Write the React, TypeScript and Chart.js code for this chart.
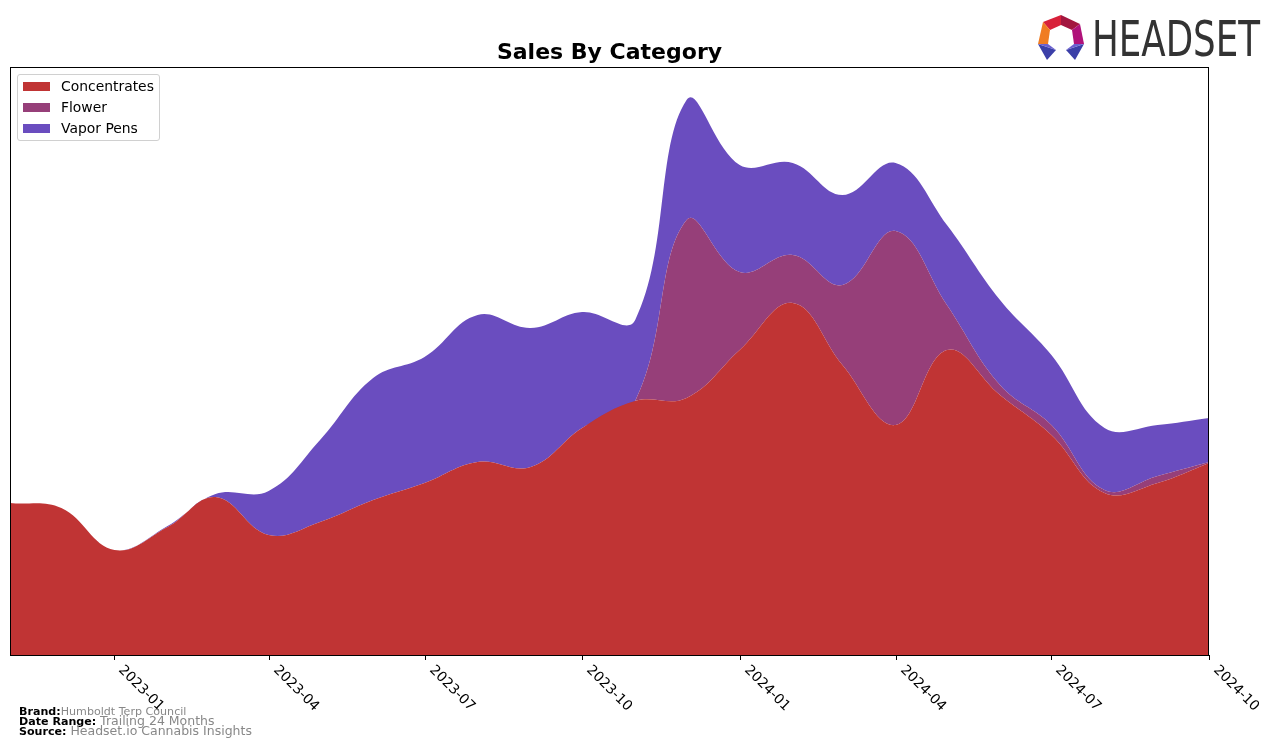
import React, { useEffect, useRef } from "react";
import { Chart, registerables } from "chart.js";

Chart.register(...registerables);

// Monthly data (arbitrary sales units)
const months = [
  "2022-11", "2022-12", "2023-01", "2023-02", "2023-03", "2023-04",
  "2023-05", "2023-06", "2023-07", "2023-08", "2023-09", "2023-10",
  "2023-11", "2023-12", "2024-01", "2024-02", "2024-03", "2024-04",
  "2024-05", "2024-06", "2024-07", "2024-08", "2024-09", "2024-10",
];
const concentrates = [152, 147, 105, 128, 158, 120, 133, 155, 172, 193, 188, 227, 254, 257, 305, 352, 290, 230, 305, 260, 220, 162, 172, 192];
const flower = [0, 0, 0, 0, 0, 0, 0, 0, 0, 0, 0, 0, 0, 178, 78, 48, 80, 194, 45, 10, 10, 3, 7, 1];
const vaporPens = [0, 0, 0, 1, 3, 44, 82, 122, 126, 147, 139, 116, 81, 120, 107, 92, 90, 68, 80, 85, 70, 62, 51, 44];
const tickLabels = ["2023-01", "2023-04", "2023-07", "2023-10", "2024-01", "2024-04", "2024-07", "2024-10"];

const seriesNames = ["Concentrates", "Flower", "Vapor Pens"];
const seriesColors = ["#C03434", "#963F79", "#6A4DBF"];

const dayNum = (ym: string) => {
  const [y, m] = ym.split("-").map(Number);
  return Date.UTC(y, m - 1, 1) / 86400000;
};

const axisPlugin = {
  id: "axisDecor",
  afterDatasetsDraw(chart: any) {
    const { ctx, chartArea: a, scales } = chart;
    const xs = scales.x;
    ctx.save();
    ctx.strokeStyle = "#000";
    ctx.lineWidth = 1;
    ctx.strokeRect(a.left + 0.5, a.top + 0.5, a.right - a.left - 1, a.bottom - a.top);
    ctx.font = "13.9px 'DejaVu Sans', sans-serif";
    ctx.fillStyle = "#000";
    tickLabels.forEach((lbl) => {
      const px = Math.round(xs.getPixelForValue(dayNum(lbl))) + 0.5;
      ctx.beginPath();
      ctx.moveTo(px, a.bottom);
      ctx.lineTo(px, a.bottom + 5);
      ctx.stroke();
      ctx.save();
      ctx.translate(px + 11, a.bottom + 8);
      ctx.rotate(Math.PI / 4);
      ctx.textAlign = "left";
      ctx.textBaseline = "top";
      ctx.fillText(lbl, 0, 0);
      ctx.restore();
    });
    ctx.restore();
  },
};

export default function App() {
  const ref = useRef<HTMLCanvasElement>(null);

  useEffect(() => {
    const xs = months.map(dayNum);
    const series = [concentrates, flower, vaporPens];
    const chart = new Chart(ref.current!, {
      type: "line",
      data: {
        datasets: series.map((vals, i) => ({
          label: seriesNames[i],
          data: vals.map((v, j) => ({ x: xs[j], y: v })),
          backgroundColor: seriesColors[i],
          borderColor: "rgba(0,0,0,0)",
          borderWidth: 1,
          fill: i === 0 ? "origin" : "-1",
          pointRadius: 0,
          tension: 0.4,
        })),
      },
      options: {
        responsive: false,
        devicePixelRatio: 1,
        animation: false,
        layout: { padding: { left: 10, top: 67, right: 67, bottom: 92 } },
        plugins: {
          legend: { display: false },
          tooltip: { enabled: false },
          title: { display: false },
        },
        scales: {
          x: { type: "linear", display: false, min: dayNum("2022-11"), max: dayNum("2024-10") },
          y: { stacked: true, display: false, min: 0, max: 588 },
        },
      },
      plugins: [axisPlugin],
    });
    return () => chart.destroy();
  }, []);

  const font = "'DejaVu Sans', sans-serif";
  const lineStyle = { position: "absolute" as const, left: 0, height: 11, lineHeight: "11px", whiteSpace: "nowrap" as const };
  return (
    <div style={{ position: "absolute", left: 0, top: 0, width: 1276, height: 747, background: "#fff", fontFamily: font }}>
      <canvas ref={ref} width={1276} height={747} style={{ position: "absolute", left: 0, top: 0, width: 1276, height: 747 }} />
      {/* Title */}
      <div style={{ position: "absolute", left: 10, width: 1199, top: 39, textAlign: "center", fontWeight: "bold", fontSize: 22, lineHeight: "26px", color: "#000" }}>
        Sales By Category
      </div>
      {/* Legend */}
      <div style={{ position: "absolute", left: 17, top: 74, width: 141, height: 65, border: "1px solid #d0d0d0", borderRadius: 3, background: "rgba(255,255,255,0.8)" }}>
        {seriesNames.map((n, i) => (
          <div key={n} style={{ position: "absolute", left: 5, top: 3 + i * 21, height: 16, display: "flex", alignItems: "center" }}>
            <span style={{ display: "inline-block", width: 27, height: 9, background: seriesColors[i] }} />
            <span style={{ marginLeft: 11, fontSize: 13.9, color: "#000", whiteSpace: "nowrap" }}>{n}</span>
          </div>
        ))}
      </div>
      {/* Logo */}
      <svg style={{ position: "absolute", left: 1030, top: 8 }} width={240} height={58} viewBox="1030 8 240 58">
        <polygon points="1043,22 1061,15 1061,25 1050,30" fill="#D8213A" />
        <polygon points="1061,15 1080,24 1072,30 1061,25" fill="#A3163F" />
        <polygon points="1080,24 1084,44 1074,44 1072,30" fill="#B0127A" />
        <polygon points="1043,22 1050,30 1048,44 1038,44" fill="#F07C22" />
        <polygon points="1038,44 1056,50 1047,60" fill="#3B3FA8" />
        <polygon points="1038,44 1048,44 1056,50" fill="#6A60D0" />
        <polygon points="1084,44 1066,50 1075,60" fill="#3B3FA8" />
        <polygon points="1084,44 1074,44 1066,50" fill="#6A60D0" />
        <text x={1092} y={56} fontFamily="'DejaVu Sans', sans-serif" fontSize={50} fill="#333" textLength={168} lengthAdjust="spacingAndGlyphs">HEADSET</text>
      </svg>
      {/* Footer */}
      <div style={{ position: "absolute", left: 19, top: 704, width: 300, height: 34 }}>
        <div style={{ ...lineStyle, top: 0 }}>
          <span style={{ fontWeight: "bold", fontSize: 11.1, color: "#000" }}>Brand:</span>
          <span style={{ fontSize: 11.1, color: "#888" }}>Humboldt Terp Council</span>
        </div>
        <div style={{ ...lineStyle, top: 10 }}>
          <span style={{ fontWeight: "bold", fontSize: 11.1, color: "#000" }}>Date Range: </span>
          <span style={{ fontSize: 12.5, color: "#888" }}>Trailing 24 Months</span>
        </div>
        <div style={{ ...lineStyle, top: 20 }}>
          <span style={{ fontWeight: "bold", fontSize: 11.1, color: "#000" }}>Source: </span>
          <span style={{ fontSize: 12.5, color: "#888" }}>Headset.io Cannabis Insights</span>
        </div>
      </div>
    </div>
  );
}
